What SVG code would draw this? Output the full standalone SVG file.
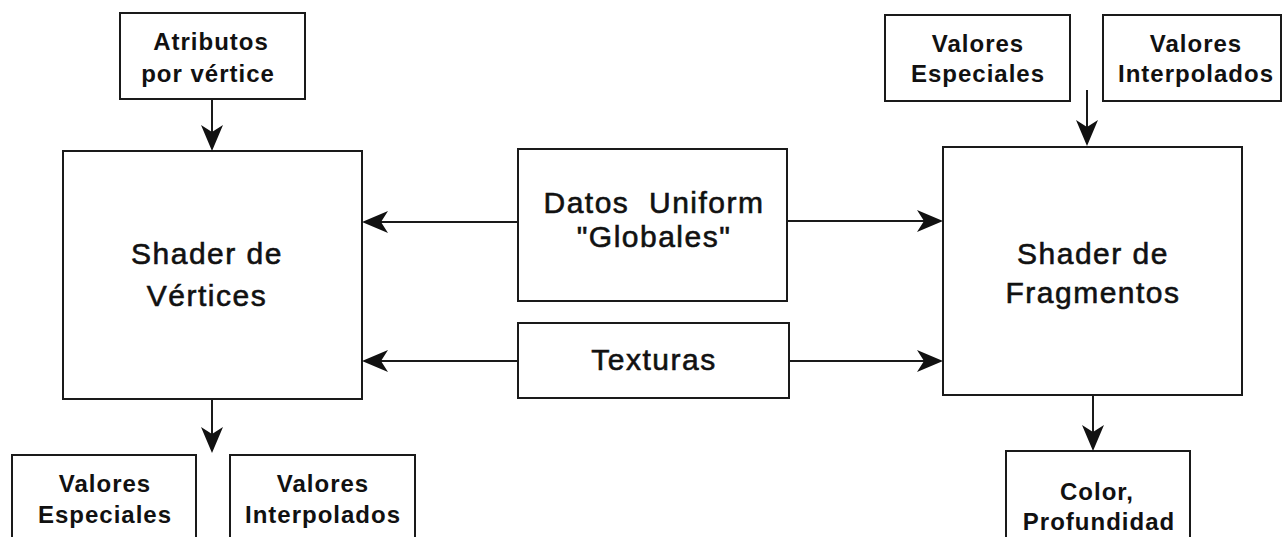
<svg xmlns="http://www.w3.org/2000/svg" width="1282" height="537" viewBox="0 0 1282 537">
<style>
.box{fill:#fff;stroke:#1a1a1a;stroke-width:2}
.big{font-family:"Liberation Sans",Arial,sans-serif;font-size:30px;letter-spacing:1.5px;fill:#111;stroke:#111;stroke-width:0.6;text-anchor:middle}
.sm{font-family:"Liberation Sans",Arial,sans-serif;font-size:24px;font-weight:bold;letter-spacing:1px;fill:#111;text-anchor:middle}
.con{stroke:#1a1a1a;stroke-width:2;fill:none;marker-end:url(#ah)}
</style>
<defs>
<marker id="ah" markerUnits="userSpaceOnUse" viewBox="-27 -12 28 24" markerWidth="28" markerHeight="24" refX="-4" refY="0" orient="auto">
<path d="M0,0 L-26,-11 L-19,0 L-26,11 Z" fill="#111"/>
</marker>
</defs>
<rect width="1282" height="537" fill="#fff"/>
<g id="atributos">
<rect class="box" x="120" y="13" width="185" height="86"/>
<text class="sm" x="211" y="50">Atributos</text>
<text class="sm" x="208" y="82">por vértice</text>
</g>
<g id="shader-vertices">
<rect class="box" x="63" y="151" width="299" height="248"/>
<text class="big" x="207" y="264">Shader de</text>
<text class="big" x="207" y="306">Vértices</text>
</g>
<g id="datos-uniform">
<rect class="box" x="518" y="149" width="269" height="152"/>
<text class="big" x="654" y="213" xml:space="preserve">Datos  Uniform</text>
<text class="big" x="654" y="247">"Globales"</text>
</g>
<g id="texturas">
<rect class="box" x="518" y="323" width="271" height="75"/>
<text class="big" x="654" y="370">Texturas</text>
</g>
<g id="shader-fragmentos">
<rect class="box" x="943" y="147" width="299" height="248"/>
<text class="big" x="1093" y="264">Shader de</text>
<text class="big" x="1093" y="303">Fragmentos</text>
</g>
<g id="valores-especiales-top">
<rect class="box" x="885" y="15" width="185" height="86"/>
<text class="sm" x="978" y="52">Valores</text>
<text class="sm" x="978" y="82">Especiales</text>
</g>
<g id="valores-interpolados-top">
<rect class="box" x="1103" y="15" width="178" height="86"/>
<text class="sm" x="1196" y="52">Valores</text>
<text class="sm" x="1196" y="82">Interpolados</text>
</g>
<g id="valores-especiales-bottom">
<rect class="box" x="12" y="455" width="184" height="100"/>
<text class="sm" x="105" y="492">Valores</text>
<text class="sm" x="105" y="523">Especiales</text>
</g>
<g id="valores-interpolados-bottom">
<rect class="box" x="230" y="455" width="185" height="100"/>
<text class="sm" x="323" y="492">Valores</text>
<text class="sm" x="323" y="523">Interpolados</text>
</g>
<g id="color">
<rect class="box" x="1006" y="451" width="184" height="100"/>
<text class="sm" x="1097" y="500">Color,</text>
<text class="sm" x="1099" y="530">Profundidad</text>
</g>
<g id="connectors">
<line class="con" x1="212" y1="100" x2="212" y2="147"/>
<line class="con" x1="212" y1="400" x2="212" y2="449"/>
<line class="con" x1="517" y1="222" x2="366" y2="222"/>
<line class="con" x1="788" y1="221" x2="939" y2="221"/>
<line class="con" x1="517" y1="361" x2="366" y2="361"/>
<line class="con" x1="790" y1="361" x2="939" y2="361"/>
<line class="con" x1="1087" y1="90" x2="1087" y2="142"/>
<line class="con" x1="1093" y1="396" x2="1093" y2="447"/>
</g>
</svg>
